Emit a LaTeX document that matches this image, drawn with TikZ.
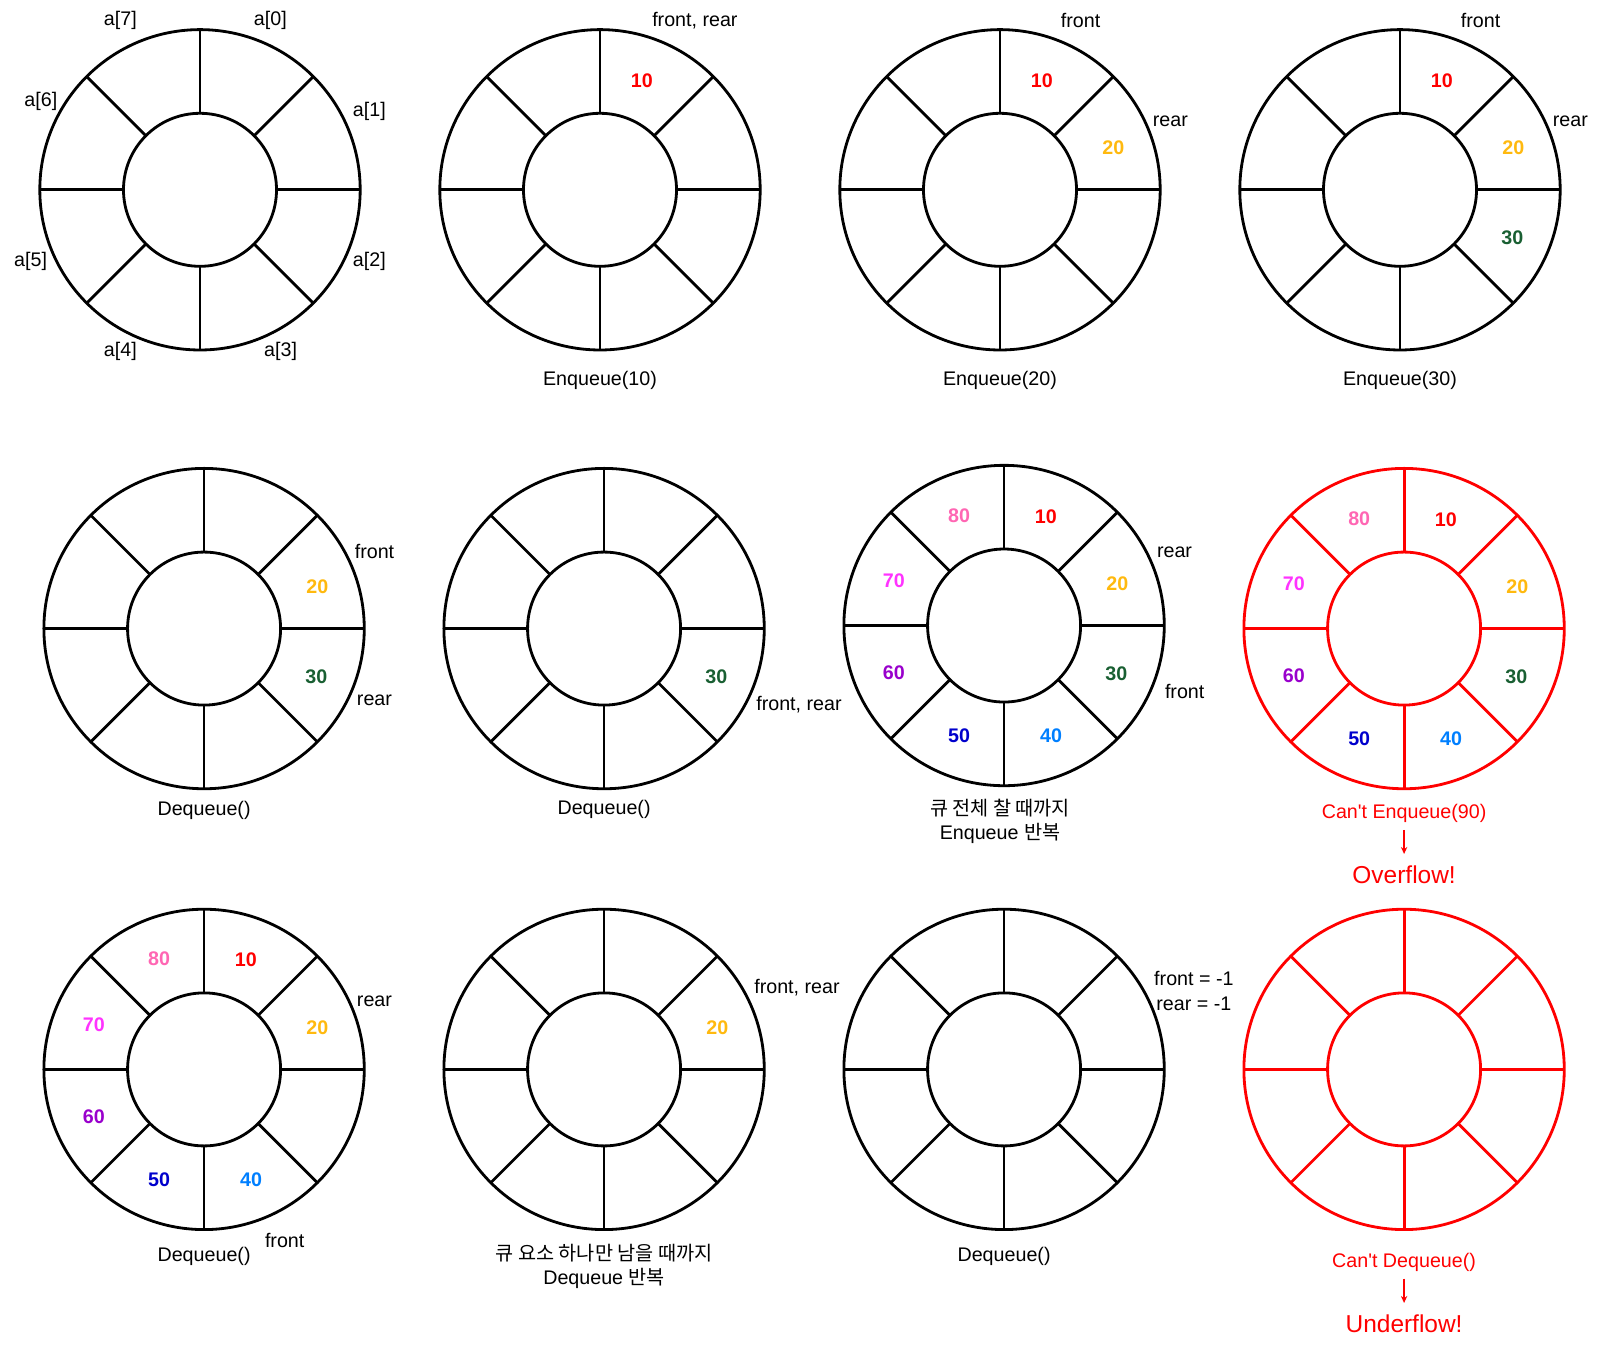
\documentclass[tikz,border=0pt]{standalone}
\usepackage{fontspec}
\setmainfont{Liberation Sans}
\newfontfamily\kor{Noto Sans CJK KR}
\usetikzlibrary{arrows.meta}
\definecolor{val10}{RGB}{255,0,0}
\definecolor{val20}{RGB}{255,185,15}
\definecolor{val30}{RGB}{25,95,50}
\definecolor{val40}{RGB}{0,127,255}
\definecolor{val50}{RGB}{0,0,204}
\definecolor{val60}{RGB}{153,0,204}
\definecolor{val70}{RGB}{255,51,255}
\definecolor{val80}{RGB}{255,102,179}

\begin{document}
\begin{tikzpicture}[
    x=0.02551cm, y=-0.02551cm,
    ring/.style={line width=2pt},
    num/.style={font=\fontsize{14}{17}\selectfont\bfseries, inner sep=0pt},
    tag/.style={font=\fontsize{14}{17.4}\selectfont, inner sep=0pt, align=center},
    warn/.style={tag, text=red},
    bigwarn/.style={font=\fontsize{17.4}{20}\selectfont, inner sep=0pt, text=red},
    warnarrow/.style={-{Stealth[length=5pt,width=4.5pt]}, red, line width=1pt}
]
\useasboundingbox (0,0) rectangle (1568,1329);

% Rings of eight cells
\foreach \cx/\cy/\rc in {196/186/black, 588/186/black, 980/186/black, 1372/186/black,
    200/616/black, 592/616/black, 984/613/black, 1376/616/red,
    200/1048/black, 592/1048/black, 984/1048/black, 1376/1048/red} {
  \draw[ring, draw=\rc] (\cx,\cy) circle[radius=4.005cm];
  \draw[ring, draw=\rc] (\cx,\cy) circle[radius=1.913cm];
  \foreach \a in {0,45,...,315}
    \draw[ring, draw=\rc] ({\cx+75*cos(\a)},{\cy+75*sin(\a)}) -- ({\cx+157*cos(\a)},{\cy+157*sin(\a)});
}

% Index labels
\foreach \k/\lx/\ly in {0/265/20, 1/362/109, 2/362/256, 3/275/344,
    4/118/344, 5/30/256, 6/40/99, 7/118/20}
  \node[tag] (a\k) at (\lx,\ly) {a[\k]};

% Stored values
\foreach \cx/\cy/\k/\v in {
    588/186/0/10,
    980/186/0/10, 980/186/1/20,
    1372/186/0/10, 1372/186/1/20, 1372/186/2/30,
    200/616/1/20, 200/616/2/30,
    592/616/2/30,
    984/613/0/10, 984/613/1/20, 984/613/2/30, 984/613/3/40,
    984/613/4/50, 984/613/5/60, 984/613/6/70, 984/613/7/80,
    1376/616/0/10, 1376/616/1/20, 1376/616/2/30, 1376/616/3/40,
    1376/616/4/50, 1376/616/5/60, 1376/616/6/70, 1376/616/7/80,
    200/1048/0/10, 200/1048/1/20, 200/1048/3/40, 200/1048/4/50,
    200/1048/5/60, 200/1048/6/70, 200/1048/7/80,
    592/1048/1/20} {
  \pgfmathsetmacro\dx{{41,111,110,46,-44,-108,-108,-44}[\k]}
  \pgfmathsetmacro\dy{{-107,-41,47,108,108,46,-44,-108}[\k]}
  \node[num, text=val\v] (v\cx-\cy-\k) at (\cx+\dx,\cy+\dy) {\v};
}

% Row 1
\node[tag] (fr1) at (681,20) {front, rear};
\node[tag] (op1) at (588,373) {Enqueue(10)};
\node[tag] (f2) at (1059,20) {front};
\node[tag] (r2) at (1147,119) {rear};
\node[tag] (op2) at (980,373) {Enqueue(20)};
\node[tag] (f3) at (1451,20) {front};
\node[tag] (r3) at (1539,119) {rear};
\node[tag] (op3) at (1372,373) {Enqueue(30)};

% Row 2
\node[tag] (f4) at (367,540) {front};
\node[tag] (r4) at (367,686) {rear};
\node[tag] (op4) at (200,794) {Dequeue()};
\node[tag] (fr5) at (783,691) {front, rear};
\node[tag] (op5) at (592,793) {Dequeue()};
\node[tag] (r6) at (1151,541) {rear};
\node[tag] (f6) at (1161,678) {front};
\node[tag] (op6) at (980,805) {{\kor 큐 전체 찰 때까지}\\Enqueue {\kor 반복}};
\node[warn] (op7) at (1376,797) {Can\textquotesingle t Enqueue(90)};
\node[bigwarn] (over) at (1376,857) {Overflow!};
\draw[warnarrow, shorten <=5pt, shorten >=8pt] (op7) -- (over);

% Row 3
\node[tag] (r8) at (367,981) {rear};
\node[tag] (f8) at (279,1216) {front};
\node[tag] (op8) at (200,1231) {Dequeue()};
\node[tag] (fr9) at (781,968) {front, rear};
\node[tag] (op9) at (592,1241) {{\kor 큐 요소 하나만 남을 때까지}\\Dequeue {\kor 반복}};
\node[tag] (fr10) at (1170,971) {front = -1\\rear = -1};
\node[tag] (op10) at (984,1231) {Dequeue()};
\node[warn] (op11) at (1376,1237) {Can\textquotesingle t Dequeue()};
\node[bigwarn] (under) at (1376,1297) {Underflow!};
\draw[warnarrow, shorten <=5pt, shorten >=8pt] (op11) -- (under);

\end{tikzpicture}
\end{document}
